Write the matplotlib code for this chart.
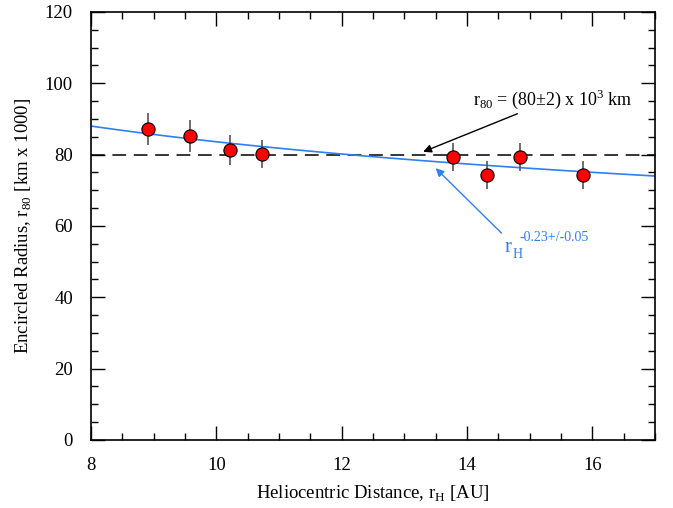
import numpy as np
import matplotlib
matplotlib.use('Agg')
import matplotlib.pyplot as plt
from matplotlib.ticker import MultipleLocator
from matplotlib.transforms import offset_copy

plt.rcParams['font.family'] = ['Liberation Serif', 'DejaVu Serif']
plt.rcParams['mathtext.fontset'] = 'custom'
plt.rcParams['mathtext.rm'] = 'Liberation Serif'

# observations
r_h = [8.91, 9.58, 10.22, 10.73, 13.78, 14.32, 14.85, 15.85]
r80 = [87.2, 85.2, 81.3, 80.2, 79.3, 74.3, 79.3, 74.3]
r80_err = [4.5, 4.5, 4.2, 4.0, 4.0, 4.0, 4.0, 4.0]

# mean value and power-law fit
r80_mean = 80.0
fit_coef = 142.0
fit_index = -0.23

blue = '#2f7ff5'

fig = plt.figure(figsize=(6.73, 5.08), dpi=100)
ax = fig.add_axes([0.1352, 0.1339, 0.8381, 0.8425])

ax.axhline(r80_mean, color='black', lw=1.1, dashes=(9, 5))
xfit = np.linspace(8, 17, 100)
ax.plot(xfit, fit_coef * xfit ** fit_index, color=blue, lw=1.2)

ax.errorbar(r_h, r80, yerr=r80_err, fmt='o', color='red', mec='black', mew=0.8,
            ms=9.5, ecolor='#555555', elinewidth=1.2, capsize=0, zorder=5)

ax.annotate(r'r$_{80}$ = (80$\pm$2) x 10$^3$ km', xy=(13.3, 80.8), xytext=(14.1, 95.5),
            fontsize=13, color='black', ha='left', va='center',
            arrowprops=dict(arrowstyle='-|>', color='black', lw=1.0,
                            shrinkA=0, shrinkB=0, mutation_scale=12))

# blue label built from pieces so the exponent keeps plain hyphens
ax.annotate('', xy=(13.5, 76.2), xytext=(14.55, 58),
            arrowprops=dict(arrowstyle='-|>', color=blue, lw=1.0,
                            shrinkA=0, shrinkB=0, mutation_scale=12))
ax.text(14.6, 54, 'r', fontsize=15, color=blue, ha='left', va='center')
ax.text(14.6, 54, 'H', fontsize=10, color=blue, ha='left', va='center',
        transform=offset_copy(ax.transData, fig=fig, x=6, y=-5, units='points'))
ax.text(14.6, 54, '-0.23+/-0.05', fontsize=10, color=blue, ha='left', va='center',
        transform=offset_copy(ax.transData, fig=fig, x=11, y=7, units='points'))

ax.set_xlim(8, 17)
ax.set_ylim(0, 120)
ax.xaxis.set_major_locator(MultipleLocator(2))
ax.xaxis.set_minor_locator(MultipleLocator(0.5))
ax.yaxis.set_major_locator(MultipleLocator(20))
ax.yaxis.set_minor_locator(MultipleLocator(5))
ax.tick_params(which='both', direction='in', top=True, right=True, labelsize=13.5)
ax.tick_params(which='major', length=10, width=1)
ax.tick_params(which='minor', length=5, width=1)
ax.tick_params(axis='x', pad=12)
ax.tick_params(axis='y', pad=13)
for s in ax.spines.values():
    s.set_linewidth(1.2)

ax.set_xlabel(r'Heliocentric Distance, r$_{\rm H}$ [AU]', fontsize=13.5, labelpad=7)
ax.set_ylabel(r'Encircled Radius, r$_{80}$ [km x 1000]', fontsize=13.5, labelpad=8)

fig.savefig('out.png', dpi=100)
